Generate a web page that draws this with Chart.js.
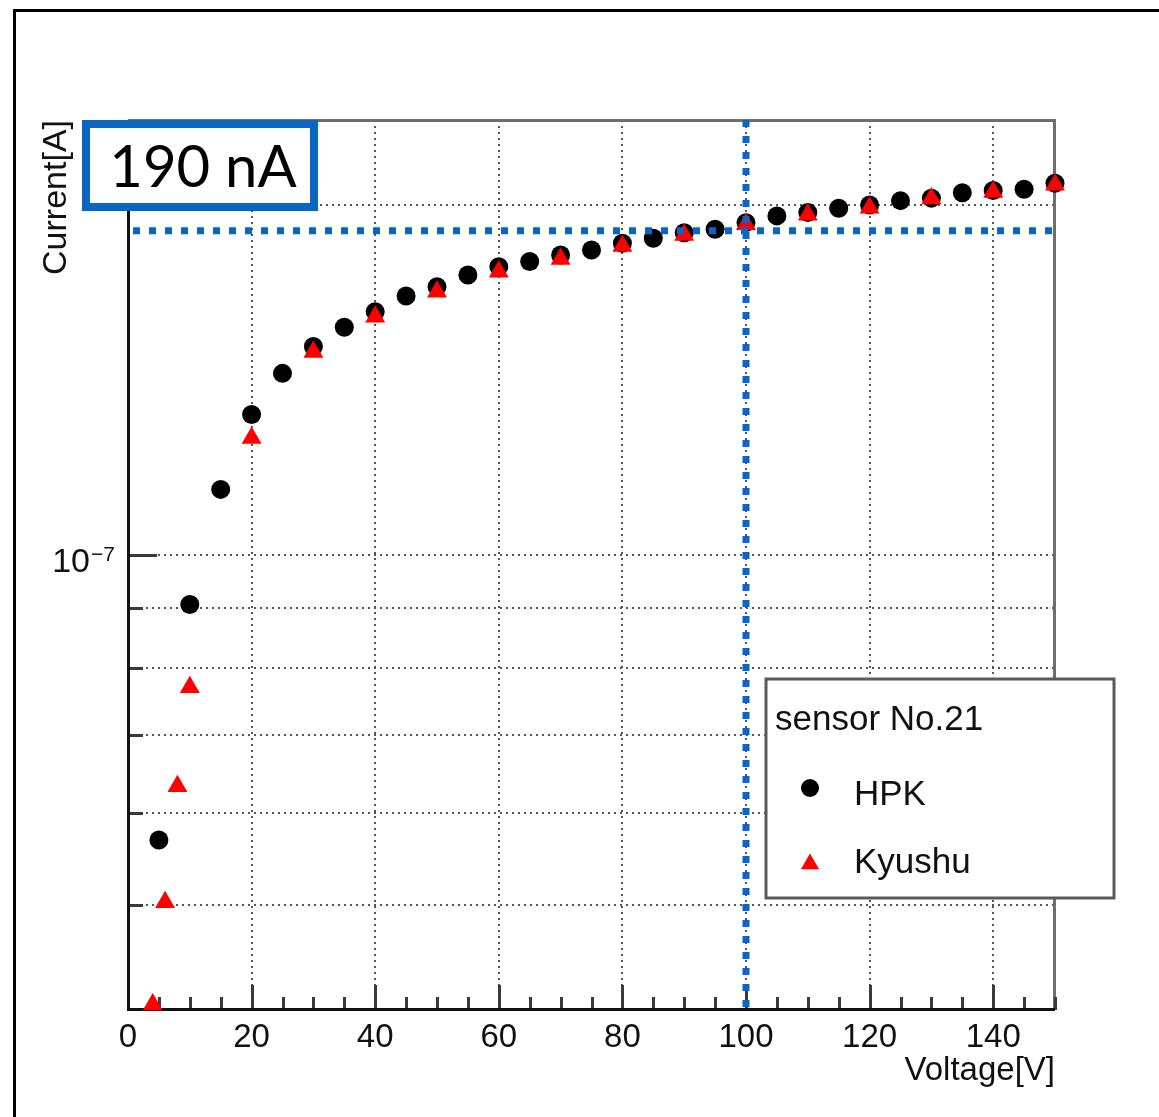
<!DOCTYPE html>
<html>
<head>
<meta charset="utf-8">
<title>sensor No.21 IV</title>
<script src="https://cdn.jsdelivr.net/npm/chart.js@4.4.1/dist/chart.umd.min.js"></script>
<style>
  html, body { margin: 0; padding: 0; background: #fff; }
  #wrap { width: 1159px; height: 1117px; }
</style>
</head>
<body>
<div id="wrap"><canvas id="ivChart" width="1159" height="1117"></canvas></div>
<script>
// HPK measurement (bias voltage in V, leakage current in nA)
const hpkVoltage = [5, 10, 15, 20, 25, 30, 35, 40, 45, 50, 55, 60, 65, 70, 75,
                    80, 85, 90, 95, 100, 105, 110, 115, 120, 125, 130, 135, 140, 145, 150];
const hpkCurrent = [56.9, 90.7, 113.9, 132.1, 143.3, 151.1, 157.0, 161.9, 167.0, 170.1,
                    174.1, 177.0, 178.8, 181.1, 182.9, 185.4, 187.2, 189.3, 190.6, 193.1,
                    195.7, 197.0, 198.7, 200.0, 201.7, 202.7, 204.9, 205.8, 206.3, 208.8];

// Kyushu measurement
const kyushuVoltage = [4, 6, 8, 10, 20, 30, 40, 50, 60, 70, 80, 90, 100, 110, 120, 130, 140, 150];
const kyushuCurrent = [41.1, 50.3, 63.3, 77.0, 126.1, 149.5, 160.3, 168.4, 175.2, 179.7,
                       184.4, 188.4, 192.5, 196.1, 198.9, 202.6, 205.2, 208.1];

// axes
const xTickLabels = [0, 20, 40, 60, 80, 100, 120, 140];
const yGridValues = [50e-9, 60e-9, 70e-9, 80e-9, 90e-9, 100e-9, 200e-9];
const yLabelValue = 100e-9;
const xRange = [0, 150];
const yRange = [40.65e-9, 236.6e-9];

// operating point marked with the blue lines
const refVoltage = 100;
const refCurrentNA = 190;

const NA = 1e-9;
const FONT = "'Liberation Sans', Arial, Helvetica, sans-serif";
const BLUE = '#0a66c2';

function toPoints(xs, ys) {
    return xs.map((v, i) => ({ x: v, y: ys[i] * NA }));
}

const rootStyle = {
    id: 'rootStyle',
    beforeDatasetsDraw(chart) {
        const { ctx, chartArea: a, scales: { x, y } } = chart;
        ctx.save();
        ctx.lineCap = 'butt';

        // frame: top/right grey, left/bottom black
        ctx.lineWidth = 3;
        ctx.strokeStyle = '#6e6e6e';
        ctx.beginPath();
        ctx.moveTo(a.left, a.top + 0.5);
        ctx.lineTo(a.right - 0.5, a.top + 0.5);
        ctx.lineTo(a.right - 0.5, a.bottom);
        ctx.stroke();

        // ticks point inwards
        ctx.strokeStyle = '#3a3a3a';
        ctx.lineWidth = 3;
        for (let v = xRange[0]; v <= xRange[1]; v += 5) {
            const px = Math.round(x.getPixelForValue(v)) + 0.5;
            const len = v % 20 === 0 ? 25 : 13;
            ctx.beginPath();
            ctx.moveTo(px, a.bottom);
            ctx.lineTo(px, a.bottom - len);
            ctx.stroke();
        }
        yGridValues.forEach(v => {
            const py = Math.round(y.getPixelForValue(v)) + 0.5;
            const len = v === yLabelValue ? 29 : 15;
            ctx.beginPath();
            ctx.moveTo(a.left, py);
            ctx.lineTo(a.left + len, py);
            ctx.stroke();
        });

        ctx.strokeStyle = '#111';
        ctx.beginPath();
        ctx.moveTo(a.left + 0.5, a.top);
        ctx.lineTo(a.left + 0.5, a.bottom - 0.5);
        ctx.lineTo(a.right, a.bottom - 0.5);
        ctx.stroke();

        // 10^-7 label
        const py = y.getPixelForValue(yLabelValue);
        ctx.fillStyle = '#111';
        ctx.font = '34px ' + FONT;
        ctx.textAlign = 'right';
        ctx.textBaseline = 'alphabetic';
        ctx.fillText('10', a.left - 38, py + 17);
        ctx.font = '21px ' + FONT;
        ctx.textAlign = 'left';
        ctx.fillText('\u22127', a.left - 37, py + 6);
        ctx.restore();
    },
    afterDatasetsDraw(chart) {
        const { ctx, chartArea: a, scales: { x, y } } = chart;
        const xr = x.getPixelForValue(refVoltage);
        const yr = y.getPixelForValue(refCurrentNA * NA);
        ctx.save();
        ctx.strokeStyle = BLUE;
        ctx.lineWidth = 7;
        ctx.setLineDash([7, 9]);
        ctx.beginPath();
        ctx.moveTo(a.left + 5, yr);
        ctx.lineTo(a.right, yr);
        ctx.stroke();
        ctx.beginPath();
        ctx.moveTo(xr, a.top);
        ctx.lineTo(xr, a.bottom);
        ctx.stroke();
        ctx.restore();
    },
    afterDraw(chart) {
        const { ctx } = chart;
        const sets = chart.data.datasets;
        ctx.save();

        // outer pad border
        ctx.strokeStyle = '#000';
        ctx.lineWidth = 3;
        ctx.beginPath();
        ctx.moveTo(14.5, 1117);
        ctx.lineTo(14.5, 10.5);
        ctx.lineTo(1159, 10.5);
        ctx.stroke();

        // legend box
        ctx.fillStyle = '#fff';
        ctx.fillRect(766, 679, 348, 219);
        ctx.strokeStyle = '#5a5a5a';
        ctx.lineWidth = 3;
        ctx.strokeRect(766, 679, 348, 219);
        ctx.fillStyle = '#111';
        ctx.font = '35px ' + FONT;
        ctx.textAlign = 'left';
        ctx.textBaseline = 'alphabetic';
        ctx.fillText('sensor No.21', 775, 730);
        ctx.fillText(sets[1].label, 854, 805);
        ctx.fillText(sets[0].label, 854, 873);

        ctx.fillStyle = sets[1].backgroundColor;
        ctx.beginPath();
        ctx.arc(810, 788, 9, 0, Math.PI * 2);
        ctx.fill();
        ctx.fillStyle = sets[0].backgroundColor;
        const r = 10.5, cy = 864;
        ctx.beginPath();
        ctx.moveTo(810, cy - r);
        ctx.lineTo(810 + r * Math.sin(Math.PI / 3), cy + r / 2);
        ctx.lineTo(810 - r * Math.sin(Math.PI / 3), cy + r / 2);
        ctx.closePath();
        ctx.fill();

        // value box
        ctx.fillStyle = '#fff';
        ctx.fillRect(86, 124, 228, 83);
        ctx.strokeStyle = BLUE;
        ctx.lineWidth = 8;
        ctx.strokeRect(86, 124, 228, 83);
        ctx.fillStyle = '#000';
        ctx.font = '58px Lato, ' + FONT;
        ctx.textAlign = 'center';
        ctx.fillText(refCurrentNA + ' nA', 203, 187);
        ctx.restore();
    }
};

new Chart(document.getElementById('ivChart'), {
    type: 'scatter',
    data: {
        datasets: [{
            label: 'Kyushu',
            data: toPoints(kyushuVoltage, kyushuCurrent),
            pointStyle: 'triangle',
            pointRadius: 11.5,
            backgroundColor: '#ff0000',
            borderWidth: 0,
            clip: false,
            order: 1
        }, {
            label: 'HPK',
            data: toPoints(hpkVoltage, hpkCurrent),
            pointStyle: 'circle',
            pointRadius: 9.5,
            backgroundColor: '#000000',
            borderWidth: 0,
            clip: false,
            order: 2
        }]
    },
    options: {
        responsive: false,
        animation: false,
        devicePixelRatio: 1,
        events: [],
        layout: {
            padding: { left: 0, top: 120, right: 104, bottom: 0 }
        },
        plugins: {
            legend: { display: false },
            tooltip: { enabled: false }
        },
        scales: {
            x: {
                type: 'linear',
                min: xRange[0],
                max: xRange[1],
                afterBuildTicks: function(scale) {
                    scale.ticks = xTickLabels.map(v => ({ value: v }));
                },
                afterFit: function(scale) {
                    scale.height = 107;
                },
                grid: {
                    color: '#555',
                    lineWidth: 2,
                    drawTicks: false
                },
                border: { display: false, dash: [2, 4] },
                ticks: {
                    autoSkip: false,
                    maxRotation: 0,
                    padding: 8,
                    color: '#111',
                    font: { size: 33, family: FONT }
                },
                title: {
                    display: true,
                    text: 'Voltage[V]',
                    align: 'end',
                    color: '#111',
                    font: { size: 33, family: FONT },
                    padding: { top: 0, bottom: 26 }
                }
            },
            y: {
                type: 'logarithmic',
                min: yRange[0],
                max: yRange[1],
                afterBuildTicks: function(scale) {
                    scale.ticks = yGridValues.map(v => ({ value: v }));
                },
                afterFit: function(scale) {
                    scale.width = 128;
                },
                grid: {
                    color: '#555',
                    lineWidth: 2,
                    drawTicks: false
                },
                border: { display: false, dash: [2, 4] },
                ticks: { display: false },
                title: {
                    display: true,
                    text: 'Current[A]',
                    align: 'end',
                    color: '#111',
                    font: { size: 34, family: FONT },
                    padding: { top: 36, bottom: 0 }
                }
            }
        }
    },
    plugins: [rootStyle]
});
</script>
</body>
</html>
